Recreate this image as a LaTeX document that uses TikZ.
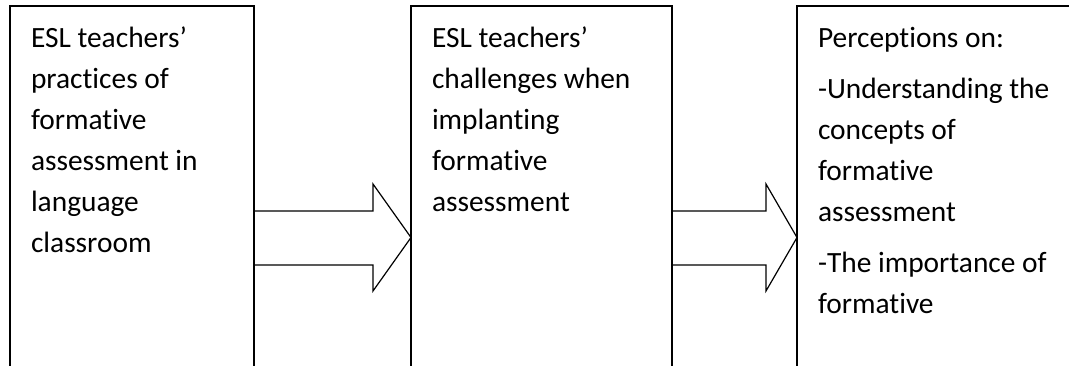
\documentclass[tikz,border=0pt]{standalone}
\usepackage{fontspec}
\setmainfont{Carlito}[Ligatures={NoCommon}]
\usetikzlibrary{calc}
\begin{document}
\begin{tikzpicture}[x=1pt,y=-1pt,
  boxst/.style={draw=black, line width=1.8pt, minimum width=#1, minimum height=420pt,
    inner sep=0pt, outer sep=0pt, anchor=north west},
  txt/.style={inner sep=0pt, outer sep=0pt, anchor=base west, text=black,
    font=\fontsize{29.4pt}{41pt}\selectfont},
  blockarrow/.style={draw=black, line width=1.2pt, line join=miter}]
\useasboundingbox (0,0) rectangle (1069,365);
\clip (0,0) rectangle (1069,365);
% boxes
\node[boxst=244pt] (b1) at (10,6) {};
\node[boxst=261pt] (b2) at (411,6) {};
\node[boxst=600pt] (b3) at (797,6) {};
% texts
\node[txt] (t1) at ($(b1.north west)+(21,41)$)
  {\parbox[t]{225pt}{\raggedright ESL teachers’\\ practices of\\ formative\\ assessment in\\ language\\ classroom}};
\node[txt] (t2) at ($(b2.north west)+(21,41)$)
  {\parbox[t]{235pt}{\raggedright ESL teachers’\\ challenges when\\ implanting\\ formative\\ assessment}};
\node[txt] (t3) at ($(b3.north west)+(21,41)$)
  {\parbox[t]{250pt}{\raggedright Perceptions on:\\[10pt] -Understanding the\\ concepts of\\ formative\\ assessment\\[10pt] -The importance of\\ formative}};
% arrow 1 (b1 -> b2)
\coordinate (p1) at ($(b2.north west)+(0,231.5)$);
\draw[blockarrow] ($(b1.north east)+(0,205)$) -- ($(p1)+(-38,-26.5)$) -- ($(p1)+(-38,-53.5)$)
  -- (p1) -- ($(p1)+(-38,53.5)$) -- ($(p1)+(-38,27.5)$) -- ($(b1.north east)+(0,259)$);
% arrow 2 (b2 -> b3)
\coordinate (p2) at ($(b3.north west)+(0,231.5)$);
\draw[blockarrow] ($(b2.north east)+(0,205)$) -- ($(p2)+(-31,-26.5)$) -- ($(p2)+(-31,-53.5)$)
  -- (p2) -- ($(p2)+(-31,53.5)$) -- ($(p2)+(-31,27.5)$) -- ($(b2.north east)+(0,259)$);
\end{tikzpicture}
\end{document}
